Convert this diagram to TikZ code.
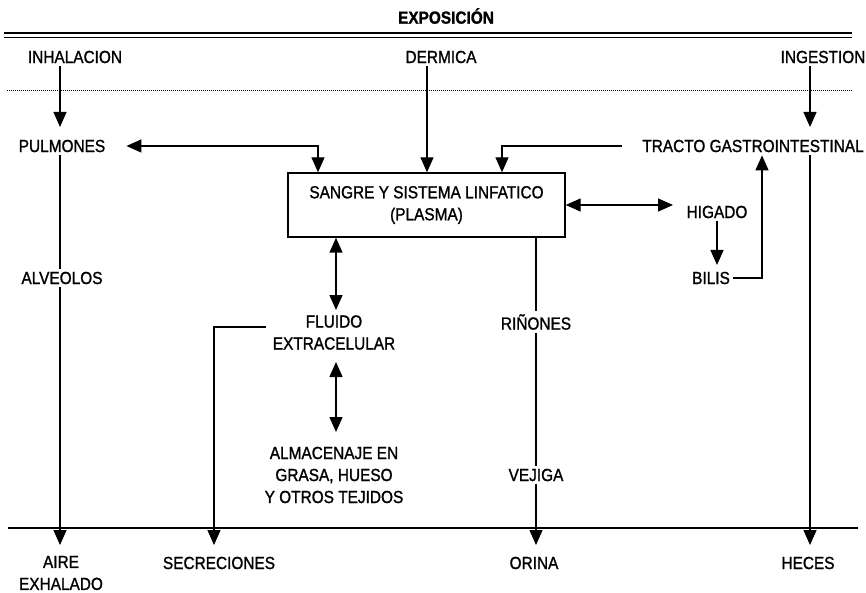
\documentclass[tikz,border=0pt]{standalone}
\usepackage{fontspec}
\setmainfont{Liberation Sans}[FakeStretch=0.88, FakeBold=1.2]
\usetikzlibrary{arrows.meta}
\begin{document}
\begin{tikzpicture}[x=1pt,y=-1pt,
  lbl/.style={inner sep=3pt, font=\fontsize{17.5}{22}\selectfont, align=center},
  conn/.style={line width=1.4pt},
  arr/.style={conn, -{Triangle[length=15pt,width=13pt]}},
  darr/.style={conn, {Triangle[length=15pt,width=13pt]}-{Triangle[length=15pt,width=13pt]}},
]
\useasboundingbox (0,0) rectangle (866,593);
\fill[white] (0,0) rectangle (866,593);

% title and separator lines
\node[lbl, font=\fontsize{17.5}{22}\selectfont\bfseries] (title) at (446,16) {EXPOSICIÓN};
\coordinate (dl1) at (4,33);   \coordinate (dr1) at (852,33);
\coordinate (dl2) at (4,37.5); \coordinate (dr2) at (852,37.5);
\draw[line width=2pt] (dl1) -- (dr1);
\draw[line width=1.2pt] (dl2) -- (dr2);
\coordinate (tl) at (7,90); \coordinate (tr) at (852,90);
\draw[line width=0.9pt, dash pattern=on 1pt off 1pt] (tl) -- (tr);
\coordinate (bl) at (8,528); \coordinate (br) at (858,528);
\draw[conn] (bl) -- (br);

% labels
\node[lbl] (inh) at (75,57) {INHALACION};
\node[lbl] (derm) at (441,57) {DERMICA};
\node[lbl] (ing) at (823,57) {INGESTION};
\node[lbl] (pul) at (62,146) {PULMONES};
\node[lbl] (tracto) at (753,146) {TRACTO GASTROINTESTINAL};
\node[lbl, draw, line width=1.4pt, minimum width=277pt, minimum height=64pt, inner sep=0pt] (box) at (426.5,205) {SANGRE Y SISTEMA LINFATICO\\(PLASMA)};
\node[lbl] (hig) at (717,212) {HIGADO};
\node[lbl] (bil) at (711,278) {BILIS};
\node[lbl] (alv) at (62,278) {ALVEOLOS};
\node[lbl] (flu) at (334,332.5) {FLUIDO\\EXTRACELULAR};
\node[lbl] (rin) at (536,322) {RIÑONES};
\node[lbl] (vej) at (536,475) {VEJIGA};
\node[lbl] (alm) at (334,475) {ALMACENAJE EN\\GRASA, HUESO\\Y OTROS TEJIDOS};
\node[lbl] (aire) at (61,573) {AIRE\\EXHALADO};
\node[lbl] (sec) at (219,563) {SECRECIONES};
\node[lbl] (ori) at (534,563) {ORINA};
\node[lbl] (hec) at (808,563) {HECES};

% helper coordinates
\coordinate (pulT) at (60,127);
\coordinate (dermX) at (427,0);
\coordinate (ingT) at (810,127);
\coordinate (pc) at (318,146);
\coordinate (tc) at (502,146);
\coordinate (higL) at (673,205);
\coordinate (bilT) at (717,265);
\coordinate (bc) at (762,278);
\coordinate (sc) at (214,327);
\coordinate (fa0) at (336,310);
\coordinate (fa1) at (336,362);
\coordinate (fa2) at (336,432);
\coordinate (aireT) at (60,545);
\coordinate (secT) at (214,545);
\coordinate (oriT) at (536,545);
\coordinate (hecT) at (810,545);

% connectors
\draw[arr] (inh.south -| pulT) -- (pulT);
\draw[arr] (derm.south -| dermX) -- (dermX |- box.north);
\draw[arr] (ing.south -| ingT) -- (ingT);
\draw[darr] ([xshift=18pt]pul.east) -- (pc) -- (pc |- box.north);
\draw[arr] ([xshift=-17pt]tracto.west) -- (tc) -- (tc |- box.north);
\draw[darr] (box.east) -- (higL);
\draw[arr] (hig.south) -- (hig.south |- bilT);
\draw[arr] (bil.east) -- (bc) -- (bc |- tracto.south);
\draw[darr] (box.south -| fa0) -- (fa0);
\draw[arr] ([xshift=-4pt]flu.west |- sc) -- (sc) -- (secT);
\draw[darr] (fa1) -- (fa2);
\draw[conn] (pul.south -| aireT) -- (alv.north -| aireT);
\draw[arr] (alv.south -| aireT) -- (aireT);
\draw[conn] (box.south -| oriT) -- (rin.north -| oriT);
\draw[conn] (rin.south -| oriT) -- (vej.north -| oriT);
\draw[arr] (vej.south -| oriT) -- (oriT);
\draw[arr] (tracto.south -| hecT) -- (hecT);
\end{tikzpicture}
\end{document}
